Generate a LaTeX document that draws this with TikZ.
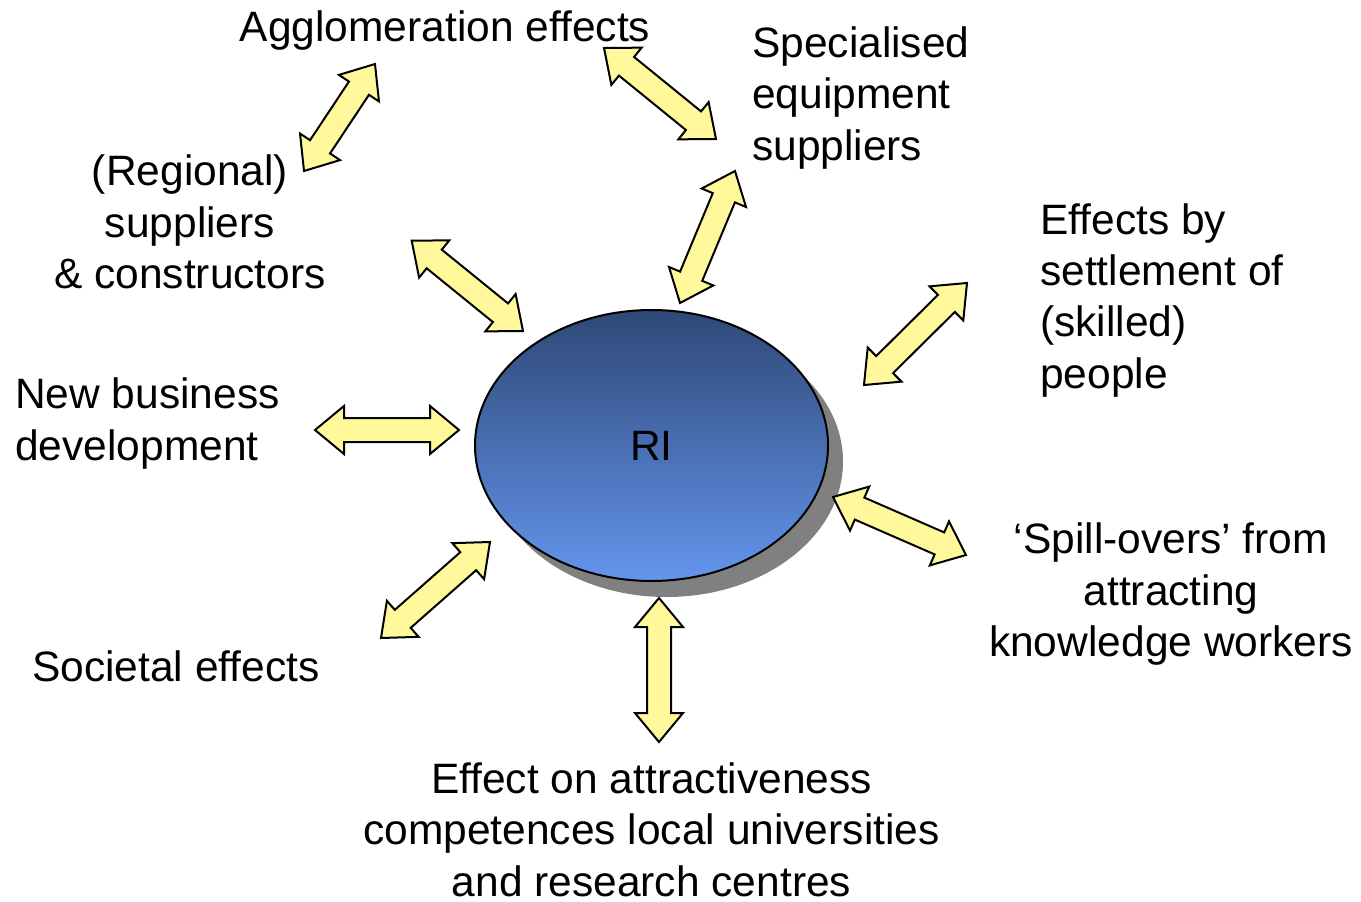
\documentclass[tikz,border=0pt]{standalone}
\usepackage{fontspec}
\setmainfont{Liberation Sans}
\usetikzlibrary{shapes.geometric,calc,shadows}
\definecolor{arrowyellow}{RGB}{255,249,155}
\definecolor{ritop}{RGB}{46,72,118}
\definecolor{ribot}{RGB}{100,149,237}
\definecolor{shadowgray}{RGB}{128,128,128}
\tikzset{
  lbl/.style={inner sep=0pt, font=\fontsize{42.5}{51.3}\selectfont},
  bigarrow/.style={draw=black, fill=arrowyellow, line width=2pt, line join=miter},
  riell/.style={ellipse, draw=black, line width=2pt, inner sep=0pt,
    minimum width=353pt, minimum height=271pt, top color=ritop, bottom color=ribot,
    drop shadow={shadow xshift=15pt, shadow yshift=-16pt, fill=shadowgray, opacity=1},
    font=\fontsize{42.5}{51.3}\selectfont},
}
\newcommand{\blockarrow}[2]{%
  \path let \p1=(#1), \p2=(#2) in
    \pgfextra{\pgfmathsetmacro{\myArrAng}{atan2(\y2-\y1,\x2-\x1)}%
      \pgfmathsetmacro{\myArrLen}{veclen(\x2-\x1,\y2-\y1)}%
      \global\let\myArrAngG\myArrAng\global\let\myArrLenG\myArrLen};
  \draw[bigarrow, shift={(#1)}, rotate=\myArrAngG]
    (0,0) -- (29,24) -- (29,12) -- (\myArrLenG-29,12) -- (\myArrLenG-29,24)
    -- (\myArrLenG,0) -- (\myArrLenG-29,-24) -- (\myArrLenG-29,-12)
    -- (29,-12) -- (29,-24) -- cycle;
}
\begin{document}
\begin{tikzpicture}[x=1pt,y=-1pt]
\useasboundingbox (0,0) rectangle (1361,902);

% central ellipse
\node[riell] (RI) at (651.5,445.5) {RI};

% labels (base anchor = baseline of the last line)
\node[lbl, anchor=base] (agg) at (445,41) {Agglomeration effects};
\node[lbl, anchor=base west, align=left] (spec) at (752,160) {Specialised\\equipment\\suppliers};
\node[lbl, anchor=base, align=center] (reg) at (190,288.5) {(Regional)\\suppliers\\\& constructors};
\node[lbl, anchor=base west, align=left] (sett) at (1040,388) {Effects by\\settlement of\\(skilled)\\people};
\node[lbl, anchor=base west, align=left] (newb) at (15,460) {New business\\development};
\node[lbl, anchor=base, align=center] (spill) at (1171,656.5) {‘Spill-overs’ from\\attracting\\knowledge workers};
\node[lbl, anchor=base west] (soc) at (32,681) {Societal effects};
\node[lbl, anchor=base, align=center] (attr) at (651.5,896) {Effect on attractiveness\\competences local universities\\and research centres};

% arrow end points
\coordinate (a1s) at (375,64);    \coordinate (a1e) at (304,171);
\coordinate (a2s) at (411.7,240.7); \coordinate (a2e) at (523,331);
\coordinate (a3s) at (604,48);    \coordinate (a3e) at (716,139);
\coordinate (a4s) at (735,171);   \coordinate (a4e) at (680,303);
\coordinate (a5s) at (315,430);   \coordinate (a5e) at (459,430);
\coordinate (a6s) at (490,542);   \coordinate (a6e) at (381,638);
\coordinate (a7s) at (659,598);   \coordinate (a7e) at (659,742);
\coordinate (a8s) at (967,283);   \coordinate (a8e) at (864,385);
\coordinate (a9s) at (833,497);   \coordinate (a9e) at (966,555);

\blockarrow{a1s}{a1e}
\blockarrow{a2s}{a2e}
\blockarrow{a3s}{a3e}
\blockarrow{a4s}{a4e}
\blockarrow{a5s}{a5e}
\blockarrow{a6s}{a6e}
\blockarrow{a7s}{a7e}
\blockarrow{a8s}{a8e}
\blockarrow{a9s}{a9e}
\end{tikzpicture}
\end{document}
